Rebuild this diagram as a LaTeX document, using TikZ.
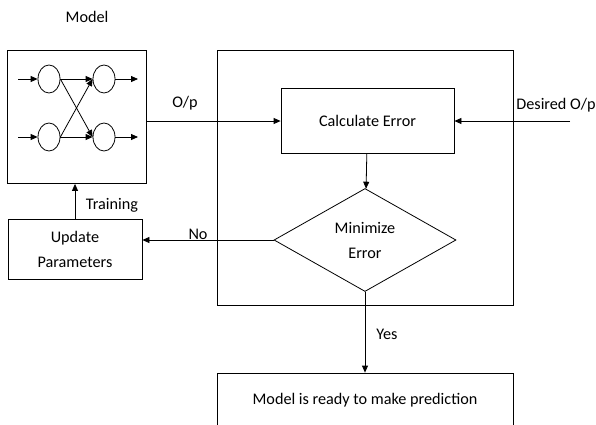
\documentclass[tikz,border=0pt]{standalone}
\usepackage{fontspec}
\setmainfont{Carlito}
\usetikzlibrary{shapes.geometric,arrows.meta}
\tikzset{
  box/.style={draw,line width=0.8pt,inner sep=0pt},
  neuron/.style={draw,ellipse,line width=0.8pt,minimum width=22pt,minimum height=28pt,inner sep=0pt},
  flow/.style={line width=0.8pt,-{Triangle[length=7pt,width=6pt]}},
  txt/.style={font=\fontsize{16.2}{25}\selectfont,align=center}
}
\begin{document}
\begin{tikzpicture}[x=1pt,y=-1pt]
  \clip (0,0) rectangle (596,424);
  \node[txt] (mlabel) at (87,17) {Model};
  \node[box,minimum width=139pt,minimum height=133pt] (model) at (76.5,117) {};
  \node[neuron] (n11) at (49,79) {};
  \node[neuron] (n12) at (49,137) {};
  \node[neuron] (n21) at (104,79) {};
  \node[neuron] (n22) at (104,137) {};
  \coordinate (i1) at (18,79);
  \coordinate (i2) at (18,137);
  \coordinate (o1) at (138,79);
  \coordinate (o2) at (138,137);
  \draw[flow] (i1) -- (n11);
  \draw[flow] (i2) -- (n12);
  \draw[flow] (n21) -- (o1);
  \draw[flow] (n22) -- (o2);
  \draw[flow] (n11.east) -- (n21.west);
  \draw[flow] (n11.east) -- (n22.west);
  \draw[flow] (n12.east) -- (n21.west);
  \draw[flow] (n12.east) -- (n22.west);

  \node[box,minimum width=296pt,minimum height=255pt] (loop) at (365,177.5) {};
  \node[box,txt,minimum width=173pt,minimum height=65pt] (calc) at (367.5,121) {Calculate Error};
  \node[box,txt,diamond,minimum width=182pt,minimum height=103pt] (minerr) at (365,240) {Minimize\\Error};
  \node[box,txt,minimum width=134pt,minimum height=60pt] (upd) at (75,249) {Update\\Parameters};
  \node[box,txt,minimum width=296pt,minimum height=54pt] (ready) at (365,400) {Model is ready to make prediction};
  \coordinate (des) at (570,121);

  \draw[flow] (model.east|-calc.west) -- (calc.west);
  \draw[flow] (des) -- (calc.east);
  \draw[flow] (calc) -- (minerr);
  \draw[flow] (minerr.west) -- (minerr.west-|upd.east);
  \draw[flow] (upd.north) -- (upd.north|-model.south);
  \draw[flow] (minerr.south) -- (ready.north);

  \node[txt] (op) at (185,103) {O/p};
  \node[txt] (desop) at (556,105) {Desired O/p};
  \node[txt] (no) at (198,234) {No};
  \node[txt] (train) at (112,205) {Training};
  \node[txt] (yes) at (387,334) {Yes};
\end{tikzpicture}
\end{document}
